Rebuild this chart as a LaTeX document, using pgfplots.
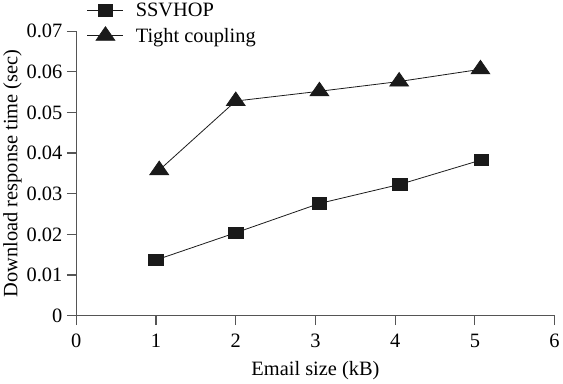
\documentclass[border=0pt]{standalone}
\usepackage{pgfplots}
\pgfplotsset{compat=1.18}
\usepackage{fontspec}
\setmainfont{Liberation Serif}
\definecolor{axgray}{HTML}{555555}
\definecolor{mk}{HTML}{1A1A1A}
\begin{document}
\begin{tikzpicture}[x=1bp,y=1bp]
\begin{axis}[
  scale only axis,
  width=479bp, height=285bp,
  xmin=0, xmax=6, ymin=0, ymax=0.07,
  axis x line=bottom, axis y line=left,
  axis line style={axgray, line width=1.2pt, -},
  xtick={0,1,2,3,4,5,6},
  ytick={0,0.01,0.02,0.03,0.04,0.05,0.06,0.07},
  yticklabels={0,0.01,0.02,0.03,0.04,0.05,0.06,0.07},
  scaled y ticks=false,
  tick align=outside,
  major tick length=9.5bp,
  tick style={axgray, line width=1.2pt},
  ticklabel style={font=\fontsize{20.5}{24}\selectfont},
  xticklabel style={yshift=-5bp},
  yticklabel style={xshift=-1bp},
  /pgf/number format/assume math mode=true,
  xlabel={Email size (kB)},
  ylabel={Download response time (sec)},
  xlabel style={font=\fontsize{20.5}{24}\selectfont, yshift=-7bp},
  ylabel style={font=\fontsize{20.5}{24}\selectfont, yshift=-2bp},
  legend style={draw=none, fill=none, at={(rel axis cs:0.02,1.11)}, anchor=north west,
    font=\fontsize{20.5}{24}\selectfont, row sep=6bp, inner sep=1bp,
    /tikz/every odd column/.append style={column sep=10bp}},
  legend cell align=left,
  legend image code/.code={\draw[mark repeat=2,mark phase=2,#1] plot coordinates {(0bp,0bp) (18bp,0bp) (36bp,0bp)};},
  clip=false,
]
\addplot[mk, line width=0.8pt, mark=square*, mark size=6bp, mark options={xscale=1.2, yscale=0.95}]
  coordinates {(1.0,0.0137) (2.0,0.0204) (3.05,0.0276) (4.06,0.0323) (5.08,0.0383)};
\addlegendentry{SSVHOP}
\addplot[mk, line width=0.8pt, mark=triangle*, mark size=9bp, mark options={xscale=1.2}]
  coordinates {(1.04,0.0358) (2.0,0.0528) (3.05,0.0552) (4.05,0.0576) (5.07,0.0606)};
\addlegendentry{Tight coupling}
\end{axis}
\end{tikzpicture}
\end{document}
